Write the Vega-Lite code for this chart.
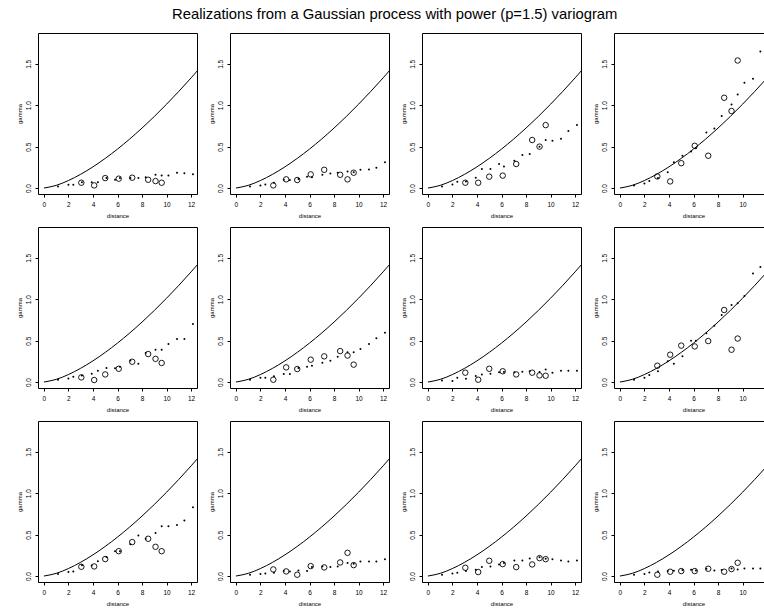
{
"$schema": "https://vega.github.io/schema/vega-lite/v6.json",
"padding": {"left": 16, "top": 6, "right": 0, "bottom": 0},
"title": {"text": "Realizations from a Gaussian process with power (p=1.5) variogram", "anchor": "middle", "fontSize": 14.8, "fontWeight": "normal", "font": "Liberation Sans", "color": "#000", "offset": 11},
"data": {"values": [
{"p":1,"k":"b","x":3.05,"y":0.064},{"p":1,"k":"b","x":4.1,"y":0.032},{"p":1,"k":"b","x":5.0,"y":0.12},{"p":1,"k":"b","x":6.1,"y":0.113},{"p":1,"k":"b","x":7.2,"y":0.125},{"p":1,"k":"b","x":8.5,"y":0.10},{"p":1,"k":"b","x":9.1,"y":0.084},{"p":1,"k":"b","x":9.6,"y":0.064},
{"p":1,"k":"d","x":1.15,"y":0.02},{"p":1,"k":"d","x":2.0,"y":0.04},{"p":1,"k":"d","x":2.4,"y":0.04},{"p":1,"k":"d","x":3.1,"y":0.07},{"p":1,"k":"d","x":3.9,"y":0.07},{"p":1,"k":"d","x":4.4,"y":0.07},{"p":1,"k":"d","x":5.1,"y":0.12},{"p":1,"k":"d","x":5.8,"y":0.10},{"p":1,"k":"d","x":6.2,"y":0.12},{"p":1,"k":"d","x":7.05,"y":0.12},{"p":1,"k":"d","x":7.7,"y":0.12},{"p":1,"k":"d","x":8.3,"y":0.13},{"p":1,"k":"d","x":9.1,"y":0.16},{"p":1,"k":"d","x":9.6,"y":0.15},{"p":1,"k":"d","x":10.15,"y":0.15},{"p":1,"k":"d","x":10.85,"y":0.185},{"p":1,"k":"d","x":11.45,"y":0.18},{"p":1,"k":"d","x":12.15,"y":0.165},
{"p":2,"k":"b","x":3.05,"y":0.032},{"p":2,"k":"b","x":4.1,"y":0.105},{"p":2,"k":"b","x":5.0,"y":0.097},{"p":2,"k":"b","x":6.1,"y":0.165},{"p":2,"k":"b","x":7.2,"y":0.22},{"p":2,"k":"b","x":8.5,"y":0.16},{"p":2,"k":"b","x":9.1,"y":0.105},{"p":2,"k":"b","x":9.6,"y":0.185},
{"p":2,"k":"d","x":1.15,"y":0.02},{"p":2,"k":"d","x":2.0,"y":0.032},{"p":2,"k":"d","x":2.4,"y":0.044},{"p":2,"k":"d","x":3.1,"y":0.064},{"p":2,"k":"d","x":3.9,"y":0.10},{"p":2,"k":"d","x":4.4,"y":0.097},{"p":2,"k":"d","x":5.1,"y":0.11},{"p":2,"k":"d","x":5.8,"y":0.137},{"p":2,"k":"d","x":6.2,"y":0.13},{"p":2,"k":"d","x":7.05,"y":0.16},{"p":2,"k":"d","x":7.7,"y":0.177},{"p":2,"k":"d","x":8.3,"y":0.185},{"p":2,"k":"d","x":9.1,"y":0.2},{"p":2,"k":"d","x":9.6,"y":0.19},{"p":2,"k":"d","x":10.15,"y":0.22},{"p":2,"k":"d","x":10.85,"y":0.225},{"p":2,"k":"d","x":11.45,"y":0.245},{"p":2,"k":"d","x":12.15,"y":0.31},
{"p":3,"k":"b","x":3.05,"y":0.064},{"p":3,"k":"b","x":4.1,"y":0.064},{"p":3,"k":"b","x":5.0,"y":0.137},{"p":3,"k":"b","x":6.1,"y":0.15},{"p":3,"k":"b","x":7.2,"y":0.29},{"p":3,"k":"b","x":8.5,"y":0.58},{"p":3,"k":"b","x":9.1,"y":0.50},{"p":3,"k":"b","x":9.6,"y":0.76},
{"p":3,"k":"d","x":1.15,"y":0.02},{"p":3,"k":"d","x":2.0,"y":0.044},{"p":3,"k":"d","x":2.4,"y":0.076},{"p":3,"k":"d","x":3.1,"y":0.08},{"p":3,"k":"d","x":3.9,"y":0.125},{"p":3,"k":"d","x":4.4,"y":0.23},{"p":3,"k":"d","x":5.1,"y":0.23},{"p":3,"k":"d","x":5.8,"y":0.29},{"p":3,"k":"d","x":6.2,"y":0.26},{"p":3,"k":"d","x":7.05,"y":0.33},{"p":3,"k":"d","x":7.7,"y":0.40},{"p":3,"k":"d","x":8.3,"y":0.41},{"p":3,"k":"d","x":9.1,"y":0.50},{"p":3,"k":"d","x":9.6,"y":0.58},{"p":3,"k":"d","x":10.15,"y":0.57},{"p":3,"k":"d","x":10.85,"y":0.595},{"p":3,"k":"d","x":11.45,"y":0.69},{"p":3,"k":"d","x":12.15,"y":0.76},
{"p":4,"k":"b","x":3.05,"y":0.14},{"p":4,"k":"b","x":4.1,"y":0.08},{"p":4,"k":"b","x":5.0,"y":0.30},{"p":4,"k":"b","x":6.1,"y":0.51},{"p":4,"k":"b","x":7.2,"y":0.39},{"p":4,"k":"b","x":8.5,"y":1.09},{"p":4,"k":"b","x":9.1,"y":0.93},{"p":4,"k":"b","x":9.6,"y":1.54},
{"p":4,"k":"d","x":1.15,"y":0.03},{"p":4,"k":"d","x":2.0,"y":0.056},{"p":4,"k":"d","x":2.4,"y":0.084},{"p":4,"k":"d","x":3.1,"y":0.12},{"p":4,"k":"d","x":3.9,"y":0.19},{"p":4,"k":"d","x":4.4,"y":0.31},{"p":4,"k":"d","x":5.1,"y":0.39},{"p":4,"k":"d","x":5.8,"y":0.44},{"p":4,"k":"d","x":6.2,"y":0.48},{"p":4,"k":"d","x":7.05,"y":0.67},{"p":4,"k":"d","x":7.7,"y":0.72},{"p":4,"k":"d","x":8.3,"y":0.87},{"p":4,"k":"d","x":9.1,"y":1.01},{"p":4,"k":"d","x":9.6,"y":1.13},{"p":4,"k":"d","x":10.15,"y":1.27},{"p":4,"k":"d","x":10.85,"y":1.32},{"p":4,"k":"d","x":11.45,"y":1.65},{"p":4,"k":"d","x":12.15,"y":1.6},
{"p":5,"k":"b","x":3.05,"y":0.056},{"p":5,"k":"b","x":4.1,"y":0.024},{"p":5,"k":"b","x":5.0,"y":0.092},{"p":5,"k":"b","x":6.1,"y":0.16},{"p":5,"k":"b","x":7.2,"y":0.245},{"p":5,"k":"b","x":8.5,"y":0.338},{"p":5,"k":"b","x":9.1,"y":0.28},{"p":5,"k":"b","x":9.6,"y":0.23},
{"p":5,"k":"d","x":1.15,"y":0.028},{"p":5,"k":"d","x":2.0,"y":0.044},{"p":5,"k":"d","x":2.4,"y":0.064},{"p":5,"k":"d","x":3.1,"y":0.08},{"p":5,"k":"d","x":3.9,"y":0.10},{"p":5,"k":"d","x":4.4,"y":0.137},{"p":5,"k":"d","x":5.1,"y":0.17},{"p":5,"k":"d","x":5.8,"y":0.165},{"p":5,"k":"d","x":6.2,"y":0.185},{"p":5,"k":"d","x":7.05,"y":0.26},{"p":5,"k":"d","x":7.7,"y":0.22},{"p":5,"k":"d","x":8.3,"y":0.35},{"p":5,"k":"d","x":9.1,"y":0.39},{"p":5,"k":"d","x":9.6,"y":0.39},{"p":5,"k":"d","x":10.15,"y":0.46},{"p":5,"k":"d","x":10.85,"y":0.52},{"p":5,"k":"d","x":11.45,"y":0.52},{"p":5,"k":"d","x":12.15,"y":0.70},
{"p":6,"k":"b","x":3.05,"y":0.028},{"p":6,"k":"b","x":4.1,"y":0.177},{"p":6,"k":"b","x":5.0,"y":0.157},{"p":6,"k":"b","x":6.1,"y":0.27},{"p":6,"k":"b","x":7.2,"y":0.31},{"p":6,"k":"b","x":8.5,"y":0.374},{"p":6,"k":"b","x":9.1,"y":0.32},{"p":6,"k":"b","x":9.6,"y":0.21},
{"p":6,"k":"d","x":1.15,"y":0.028},{"p":6,"k":"d","x":2.0,"y":0.052},{"p":6,"k":"d","x":2.4,"y":0.052},{"p":6,"k":"d","x":3.1,"y":0.07},{"p":6,"k":"d","x":3.9,"y":0.097},{"p":6,"k":"d","x":4.4,"y":0.097},{"p":6,"k":"d","x":5.1,"y":0.17},{"p":6,"k":"d","x":5.8,"y":0.185},{"p":6,"k":"d","x":6.2,"y":0.197},{"p":6,"k":"d","x":7.05,"y":0.233},{"p":6,"k":"d","x":7.7,"y":0.257},{"p":6,"k":"d","x":8.3,"y":0.305},{"p":6,"k":"d","x":9.1,"y":0.36},{"p":6,"k":"d","x":9.6,"y":0.36},{"p":6,"k":"d","x":10.15,"y":0.40},{"p":6,"k":"d","x":10.85,"y":0.46},{"p":6,"k":"d","x":11.45,"y":0.53},{"p":6,"k":"d","x":12.15,"y":0.595},
{"p":7,"k":"b","x":3.05,"y":0.113},{"p":7,"k":"b","x":4.1,"y":0.028},{"p":7,"k":"b","x":5.0,"y":0.16},{"p":7,"k":"b","x":6.1,"y":0.13},{"p":7,"k":"b","x":7.2,"y":0.092},{"p":7,"k":"b","x":8.5,"y":0.113},{"p":7,"k":"b","x":9.1,"y":0.08},{"p":7,"k":"b","x":9.6,"y":0.076},
{"p":7,"k":"d","x":1.15,"y":0.02},{"p":7,"k":"d","x":2.0,"y":0.012},{"p":7,"k":"d","x":2.4,"y":0.052},{"p":7,"k":"d","x":3.1,"y":0.04},{"p":7,"k":"d","x":3.9,"y":0.072},{"p":7,"k":"d","x":4.4,"y":0.092},{"p":7,"k":"d","x":5.1,"y":0.10},{"p":7,"k":"d","x":5.8,"y":0.117},{"p":7,"k":"d","x":6.2,"y":0.12},{"p":7,"k":"d","x":7.05,"y":0.117},{"p":7,"k":"d","x":7.7,"y":0.125},{"p":7,"k":"d","x":8.3,"y":0.13},{"p":7,"k":"d","x":9.1,"y":0.12},{"p":7,"k":"d","x":9.6,"y":0.15},{"p":7,"k":"d","x":10.15,"y":0.113},{"p":7,"k":"d","x":10.85,"y":0.137},{"p":7,"k":"d","x":11.45,"y":0.137},{"p":7,"k":"d","x":12.15,"y":0.137},
{"p":8,"k":"b","x":3.05,"y":0.197},{"p":8,"k":"b","x":4.1,"y":0.33},{"p":8,"k":"b","x":5.0,"y":0.44},{"p":8,"k":"b","x":6.1,"y":0.43},{"p":8,"k":"b","x":7.2,"y":0.495},{"p":8,"k":"b","x":8.5,"y":0.87},{"p":8,"k":"b","x":9.1,"y":0.39},{"p":8,"k":"b","x":9.6,"y":0.525},
{"p":8,"k":"d","x":1.15,"y":0.028},{"p":8,"k":"d","x":2.0,"y":0.052},{"p":8,"k":"d","x":2.4,"y":0.084},{"p":8,"k":"d","x":3.1,"y":0.13},{"p":8,"k":"d","x":3.9,"y":0.25},{"p":8,"k":"d","x":4.4,"y":0.22},{"p":8,"k":"d","x":5.1,"y":0.31},{"p":8,"k":"d","x":5.8,"y":0.50},{"p":8,"k":"d","x":6.2,"y":0.50},{"p":8,"k":"d","x":7.05,"y":0.59},{"p":8,"k":"d","x":7.7,"y":0.68},{"p":8,"k":"d","x":8.3,"y":0.81},{"p":8,"k":"d","x":9.1,"y":0.93},{"p":8,"k":"d","x":9.6,"y":0.95},{"p":8,"k":"d","x":10.15,"y":1.04},{"p":8,"k":"d","x":10.85,"y":1.31},{"p":8,"k":"d","x":11.45,"y":1.39},{"p":8,"k":"d","x":12.15,"y":1.45},
{"p":9,"k":"b","x":3.05,"y":0.112},{"p":9,"k":"b","x":4.1,"y":0.116},{"p":9,"k":"b","x":5.0,"y":0.205},{"p":9,"k":"b","x":6.1,"y":0.30},{"p":9,"k":"b","x":7.2,"y":0.41},{"p":9,"k":"b","x":8.5,"y":0.45},{"p":9,"k":"b","x":9.1,"y":0.353},{"p":9,"k":"b","x":9.6,"y":0.30},
{"p":9,"k":"d","x":1.15,"y":0.024},{"p":9,"k":"d","x":2.0,"y":0.048},{"p":9,"k":"d","x":2.4,"y":0.056},{"p":9,"k":"d","x":3.1,"y":0.13},{"p":9,"k":"d","x":3.9,"y":0.128},{"p":9,"k":"d","x":4.4,"y":0.18},{"p":9,"k":"d","x":5.1,"y":0.23},{"p":9,"k":"d","x":5.8,"y":0.30},{"p":9,"k":"d","x":6.2,"y":0.30},{"p":9,"k":"d","x":7.05,"y":0.385},{"p":9,"k":"d","x":7.7,"y":0.49},{"p":9,"k":"d","x":8.3,"y":0.45},{"p":9,"k":"d","x":9.1,"y":0.52},{"p":9,"k":"d","x":9.6,"y":0.60},{"p":9,"k":"d","x":10.15,"y":0.60},{"p":9,"k":"d","x":10.85,"y":0.615},{"p":9,"k":"d","x":11.45,"y":0.67},{"p":9,"k":"d","x":12.15,"y":0.83},
{"p":10,"k":"b","x":3.05,"y":0.08},{"p":10,"k":"b","x":4.1,"y":0.056},{"p":10,"k":"b","x":5.0,"y":0.016},{"p":10,"k":"b","x":6.1,"y":0.12},{"p":10,"k":"b","x":7.2,"y":0.104},{"p":10,"k":"b","x":8.5,"y":0.164},{"p":10,"k":"b","x":9.1,"y":0.28},{"p":10,"k":"b","x":9.6,"y":0.132},
{"p":10,"k":"d","x":1.15,"y":0.016},{"p":10,"k":"d","x":2.0,"y":0.024},{"p":10,"k":"d","x":2.4,"y":0.032},{"p":10,"k":"d","x":3.1,"y":0.04},{"p":10,"k":"d","x":3.9,"y":0.06},{"p":10,"k":"d","x":4.4,"y":0.056},{"p":10,"k":"d","x":5.1,"y":0.068},{"p":10,"k":"d","x":5.8,"y":0.06},{"p":10,"k":"d","x":6.2,"y":0.108},{"p":10,"k":"d","x":7.05,"y":0.116},{"p":10,"k":"d","x":7.7,"y":0.108},{"p":10,"k":"d","x":8.3,"y":0.116},{"p":10,"k":"d","x":9.1,"y":0.156},{"p":10,"k":"d","x":9.6,"y":0.148},{"p":10,"k":"d","x":10.15,"y":0.176},{"p":10,"k":"d","x":10.85,"y":0.176},{"p":10,"k":"d","x":11.45,"y":0.176},{"p":10,"k":"d","x":12.15,"y":0.204},
{"p":11,"k":"b","x":3.05,"y":0.10},{"p":11,"k":"b","x":4.1,"y":0.048},{"p":11,"k":"b","x":5.0,"y":0.184},{"p":11,"k":"b","x":6.1,"y":0.144},{"p":11,"k":"b","x":7.2,"y":0.108},{"p":11,"k":"b","x":8.5,"y":0.14},{"p":11,"k":"b","x":9.1,"y":0.216},{"p":11,"k":"b","x":9.6,"y":0.204},
{"p":11,"k":"d","x":1.15,"y":0.016},{"p":11,"k":"d","x":2.0,"y":0.032},{"p":11,"k":"d","x":2.4,"y":0.04},{"p":11,"k":"d","x":3.1,"y":0.06},{"p":11,"k":"d","x":3.9,"y":0.076},{"p":11,"k":"d","x":4.4,"y":0.108},{"p":11,"k":"d","x":5.1,"y":0.116},{"p":11,"k":"d","x":5.8,"y":0.14},{"p":11,"k":"d","x":6.2,"y":0.156},{"p":11,"k":"d","x":7.05,"y":0.188},{"p":11,"k":"d","x":7.7,"y":0.188},{"p":11,"k":"d","x":8.3,"y":0.212},{"p":11,"k":"d","x":9.1,"y":0.228},{"p":11,"k":"d","x":9.6,"y":0.21},{"p":11,"k":"d","x":10.15,"y":0.204},{"p":11,"k":"d","x":10.85,"y":0.188},{"p":11,"k":"d","x":11.45,"y":0.176},{"p":11,"k":"d","x":12.15,"y":0.188},
{"p":12,"k":"b","x":3.05,"y":0.016},{"p":12,"k":"b","x":4.1,"y":0.052},{"p":12,"k":"b","x":5.0,"y":0.06},{"p":12,"k":"b","x":6.1,"y":0.06},{"p":12,"k":"b","x":7.2,"y":0.088},{"p":12,"k":"b","x":8.5,"y":0.052},{"p":12,"k":"b","x":9.1,"y":0.084},{"p":12,"k":"b","x":9.6,"y":0.16},
{"p":12,"k":"d","x":1.15,"y":0.016},{"p":12,"k":"d","x":2.0,"y":0.024},{"p":12,"k":"d","x":2.4,"y":0.044},{"p":12,"k":"d","x":3.1,"y":0.056},{"p":12,"k":"d","x":3.9,"y":0.06},{"p":12,"k":"d","x":4.4,"y":0.064},{"p":12,"k":"d","x":5.1,"y":0.072},{"p":12,"k":"d","x":5.8,"y":0.076},{"p":12,"k":"d","x":6.2,"y":0.068},{"p":12,"k":"d","x":7.05,"y":0.088},{"p":12,"k":"d","x":7.7,"y":0.068},{"p":12,"k":"d","x":8.3,"y":0.072},{"p":12,"k":"d","x":9.1,"y":0.092},{"p":12,"k":"d","x":9.6,"y":0.08},{"p":12,"k":"d","x":10.15,"y":0.092},{"p":12,"k":"d","x":10.85,"y":0.092},{"p":12,"k":"d","x":11.45,"y":0.092},{"p":12,"k":"d","x":12.15,"y":0.09},
{"p":1,"k":"c","x":0,"y":0},{"p":1,"k":"c","x":1,"y":0.032},{"p":1,"k":"c","x":2,"y":0.0905},{"p":1,"k":"c","x":3,"y":0.1663},{"p":1,"k":"c","x":4,"y":0.256},{"p":1,"k":"c","x":5,"y":0.3578},{"p":1,"k":"c","x":6,"y":0.4703},{"p":1,"k":"c","x":7,"y":0.5926},{"p":1,"k":"c","x":8,"y":0.7241},{"p":1,"k":"c","x":9,"y":0.864},{"p":1,"k":"c","x":10,"y":1.0119},{"p":1,"k":"c","x":11,"y":1.1675},{"p":1,"k":"c","x":12,"y":1.3302},{"p":1,"k":"c","x":12.5,"y":1.4142},
{"p":2,"k":"c","x":0,"y":0},{"p":2,"k":"c","x":1,"y":0.032},{"p":2,"k":"c","x":2,"y":0.0905},{"p":2,"k":"c","x":3,"y":0.1663},{"p":2,"k":"c","x":4,"y":0.256},{"p":2,"k":"c","x":5,"y":0.3578},{"p":2,"k":"c","x":6,"y":0.4703},{"p":2,"k":"c","x":7,"y":0.5926},{"p":2,"k":"c","x":8,"y":0.7241},{"p":2,"k":"c","x":9,"y":0.864},{"p":2,"k":"c","x":10,"y":1.0119},{"p":2,"k":"c","x":11,"y":1.1675},{"p":2,"k":"c","x":12,"y":1.3302},{"p":2,"k":"c","x":12.5,"y":1.4142},
{"p":3,"k":"c","x":0,"y":0},{"p":3,"k":"c","x":1,"y":0.032},{"p":3,"k":"c","x":2,"y":0.0905},{"p":3,"k":"c","x":3,"y":0.1663},{"p":3,"k":"c","x":4,"y":0.256},{"p":3,"k":"c","x":5,"y":0.3578},{"p":3,"k":"c","x":6,"y":0.4703},{"p":3,"k":"c","x":7,"y":0.5926},{"p":3,"k":"c","x":8,"y":0.7241},{"p":3,"k":"c","x":9,"y":0.864},{"p":3,"k":"c","x":10,"y":1.0119},{"p":3,"k":"c","x":11,"y":1.1675},{"p":3,"k":"c","x":12,"y":1.3302},{"p":3,"k":"c","x":12.5,"y":1.4142},
{"p":4,"k":"c","x":0,"y":0},{"p":4,"k":"c","x":1,"y":0.032},{"p":4,"k":"c","x":2,"y":0.0905},{"p":4,"k":"c","x":3,"y":0.1663},{"p":4,"k":"c","x":4,"y":0.256},{"p":4,"k":"c","x":5,"y":0.3578},{"p":4,"k":"c","x":6,"y":0.4703},{"p":4,"k":"c","x":7,"y":0.5926},{"p":4,"k":"c","x":8,"y":0.7241},{"p":4,"k":"c","x":9,"y":0.864},{"p":4,"k":"c","x":10,"y":1.0119},{"p":4,"k":"c","x":11,"y":1.1675},{"p":4,"k":"c","x":12,"y":1.3302},{"p":4,"k":"c","x":12.5,"y":1.4142},
{"p":5,"k":"c","x":0,"y":0},{"p":5,"k":"c","x":1,"y":0.032},{"p":5,"k":"c","x":2,"y":0.0905},{"p":5,"k":"c","x":3,"y":0.1663},{"p":5,"k":"c","x":4,"y":0.256},{"p":5,"k":"c","x":5,"y":0.3578},{"p":5,"k":"c","x":6,"y":0.4703},{"p":5,"k":"c","x":7,"y":0.5926},{"p":5,"k":"c","x":8,"y":0.7241},{"p":5,"k":"c","x":9,"y":0.864},{"p":5,"k":"c","x":10,"y":1.0119},{"p":5,"k":"c","x":11,"y":1.1675},{"p":5,"k":"c","x":12,"y":1.3302},{"p":5,"k":"c","x":12.5,"y":1.4142},
{"p":6,"k":"c","x":0,"y":0},{"p":6,"k":"c","x":1,"y":0.032},{"p":6,"k":"c","x":2,"y":0.0905},{"p":6,"k":"c","x":3,"y":0.1663},{"p":6,"k":"c","x":4,"y":0.256},{"p":6,"k":"c","x":5,"y":0.3578},{"p":6,"k":"c","x":6,"y":0.4703},{"p":6,"k":"c","x":7,"y":0.5926},{"p":6,"k":"c","x":8,"y":0.7241},{"p":6,"k":"c","x":9,"y":0.864},{"p":6,"k":"c","x":10,"y":1.0119},{"p":6,"k":"c","x":11,"y":1.1675},{"p":6,"k":"c","x":12,"y":1.3302},{"p":6,"k":"c","x":12.5,"y":1.4142},
{"p":7,"k":"c","x":0,"y":0},{"p":7,"k":"c","x":1,"y":0.032},{"p":7,"k":"c","x":2,"y":0.0905},{"p":7,"k":"c","x":3,"y":0.1663},{"p":7,"k":"c","x":4,"y":0.256},{"p":7,"k":"c","x":5,"y":0.3578},{"p":7,"k":"c","x":6,"y":0.4703},{"p":7,"k":"c","x":7,"y":0.5926},{"p":7,"k":"c","x":8,"y":0.7241},{"p":7,"k":"c","x":9,"y":0.864},{"p":7,"k":"c","x":10,"y":1.0119},{"p":7,"k":"c","x":11,"y":1.1675},{"p":7,"k":"c","x":12,"y":1.3302},{"p":7,"k":"c","x":12.5,"y":1.4142},
{"p":8,"k":"c","x":0,"y":0},{"p":8,"k":"c","x":1,"y":0.032},{"p":8,"k":"c","x":2,"y":0.0905},{"p":8,"k":"c","x":3,"y":0.1663},{"p":8,"k":"c","x":4,"y":0.256},{"p":8,"k":"c","x":5,"y":0.3578},{"p":8,"k":"c","x":6,"y":0.4703},{"p":8,"k":"c","x":7,"y":0.5926},{"p":8,"k":"c","x":8,"y":0.7241},{"p":8,"k":"c","x":9,"y":0.864},{"p":8,"k":"c","x":10,"y":1.0119},{"p":8,"k":"c","x":11,"y":1.1675},{"p":8,"k":"c","x":12,"y":1.3302},{"p":8,"k":"c","x":12.5,"y":1.4142},
{"p":9,"k":"c","x":0,"y":0},{"p":9,"k":"c","x":1,"y":0.032},{"p":9,"k":"c","x":2,"y":0.0905},{"p":9,"k":"c","x":3,"y":0.1663},{"p":9,"k":"c","x":4,"y":0.256},{"p":9,"k":"c","x":5,"y":0.3578},{"p":9,"k":"c","x":6,"y":0.4703},{"p":9,"k":"c","x":7,"y":0.5926},{"p":9,"k":"c","x":8,"y":0.7241},{"p":9,"k":"c","x":9,"y":0.864},{"p":9,"k":"c","x":10,"y":1.0119},{"p":9,"k":"c","x":11,"y":1.1675},{"p":9,"k":"c","x":12,"y":1.3302},{"p":9,"k":"c","x":12.5,"y":1.4142},
{"p":10,"k":"c","x":0,"y":0},{"p":10,"k":"c","x":1,"y":0.032},{"p":10,"k":"c","x":2,"y":0.0905},{"p":10,"k":"c","x":3,"y":0.1663},{"p":10,"k":"c","x":4,"y":0.256},{"p":10,"k":"c","x":5,"y":0.3578},{"p":10,"k":"c","x":6,"y":0.4703},{"p":10,"k":"c","x":7,"y":0.5926},{"p":10,"k":"c","x":8,"y":0.7241},{"p":10,"k":"c","x":9,"y":0.864},{"p":10,"k":"c","x":10,"y":1.0119},{"p":10,"k":"c","x":11,"y":1.1675},{"p":10,"k":"c","x":12,"y":1.3302},{"p":10,"k":"c","x":12.5,"y":1.4142},
{"p":11,"k":"c","x":0,"y":0},{"p":11,"k":"c","x":1,"y":0.032},{"p":11,"k":"c","x":2,"y":0.0905},{"p":11,"k":"c","x":3,"y":0.1663},{"p":11,"k":"c","x":4,"y":0.256},{"p":11,"k":"c","x":5,"y":0.3578},{"p":11,"k":"c","x":6,"y":0.4703},{"p":11,"k":"c","x":7,"y":0.5926},{"p":11,"k":"c","x":8,"y":0.7241},{"p":11,"k":"c","x":9,"y":0.864},{"p":11,"k":"c","x":10,"y":1.0119},{"p":11,"k":"c","x":11,"y":1.1675},{"p":11,"k":"c","x":12,"y":1.3302},{"p":11,"k":"c","x":12.5,"y":1.4142},
{"p":12,"k":"c","x":0,"y":0},{"p":12,"k":"c","x":1,"y":0.032},{"p":12,"k":"c","x":2,"y":0.0905},{"p":12,"k":"c","x":3,"y":0.1663},{"p":12,"k":"c","x":4,"y":0.256},{"p":12,"k":"c","x":5,"y":0.3578},{"p":12,"k":"c","x":6,"y":0.4703},{"p":12,"k":"c","x":7,"y":0.5926},{"p":12,"k":"c","x":8,"y":0.7241},{"p":12,"k":"c","x":9,"y":0.864},{"p":12,"k":"c","x":10,"y":1.0119},{"p":12,"k":"c","x":11,"y":1.1675},{"p":12,"k":"c","x":12,"y":1.3302},{"p":12,"k":"c","x":12.5,"y":1.4142}
]},
"facet": {"field": "p", "type": "ordinal", "header": {"labels": false, "title": null, "labelFontSize": 0, "labelPadding": 0, "labelExpr": "''"}},
"columns": 4,
"spacing": {"row": 33, "column": 33},
"bounds": "flush",
"resolve": {"axis": {"x": "independent", "y": "independent"}},
"spec": {
"width": 159, "height": 161,
"encoding": {
"x": {"field": "x", "type": "quantitative", "scale": {"domain": [-0.48, 12.48], "nice": false, "zero": false}, "axis": {"values": [0,2,4,6,8,10,12], "title": "distance", "labelFlush": false, "labelPadding": 4, "titlePadding": 5}},
"y": {"field": "y", "type": "quantitative", "scale": {"domain": [-0.072, 1.872], "nice": false, "zero": false}, "axis": {"values": [0,0.5,1,1.5], "format": ".1f", "title": "gamma", "labelAngle": -90, "labelAlign": "center", "labelBaseline": "bottom", "labelPadding": 3.5, "titlePadding": 3}}
},
"layer": [
{"transform": [{"filter": "datum.k == 'c'"}], "mark": {"type": "line", "color": "#000", "strokeWidth": 1, "interpolate": "monotone", "clip": true}},
{"transform": [{"filter": "datum.k == 'b'"}], "mark": {"type": "point", "shape": "circle", "filled": false, "size": 30, "strokeWidth": 0.9, "color": "#000", "opacity": 1}},
{"transform": [{"filter": "datum.k == 'd'"}], "mark": {"type": "circle", "size": 4, "color": "#000", "opacity": 1}}
]
},
"config": {
"font": "Liberation Sans",
"view": {"stroke": "#000", "strokeWidth": 1},
"header": {"labels": false, "title": null},
"headerFacet": {"labels": false, "title": null},
"axis": {"grid": false, "domain": false, "ticks": true, "tickColor": "#000", "tickSize": 3, "labelColor": "#000", "labelFontSize": 6.5, "titleFontSize": 6, "titleFontWeight": "normal", "titleColor": "#000"}
}
}
